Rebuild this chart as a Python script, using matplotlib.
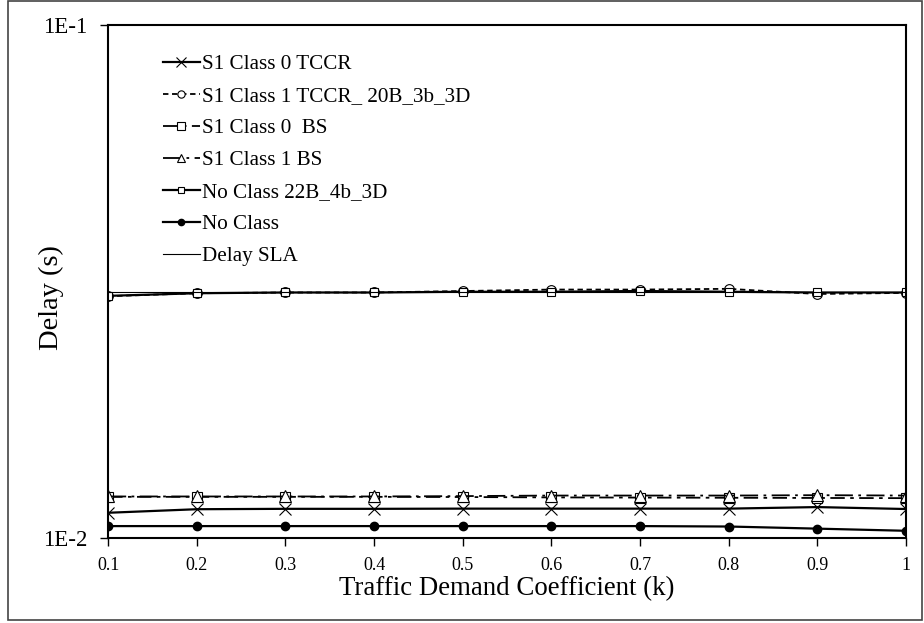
import numpy as np
import matplotlib.pyplot as plt
from matplotlib.patches import Rectangle

plt.rcParams['font.family'] = 'Liberation Serif'

k = [0.1, 0.2, 0.3, 0.4, 0.5, 0.6, 0.7, 0.8, 0.9, 1.0]
tick_labels = ['0.1', '0.2', '0.3', '0.4', '0.5', '0.6', '0.7', '0.8', '0.9', '1']

s1_c0_tccr = [0.01120, 0.01138, 0.01140, 0.01140, 0.01141, 0.01141, 0.01141, 0.01141, 0.01149, 0.01139]
s1_c1_tccr = [0.02960, 0.03000, 0.03010, 0.03010, 0.03030, 0.03050, 0.03050, 0.03060, 0.02990, 0.03005]
s1_c0_bs = [0.01203, 0.01203, 0.01203, 0.01203, 0.01202, 0.01200, 0.01199, 0.01198, 0.01197, 0.01196]
s1_c1_bs = [0.01205, 0.01205, 0.01205, 0.01205, 0.01207, 0.01210, 0.01210, 0.01210, 0.01212, 0.01210]
noclass_22b = [0.02965, 0.03000, 0.03010, 0.03010, 0.03020, 0.03020, 0.03030, 0.03020, 0.03010, 0.03010]
noclass = [0.01055, 0.01055, 0.01055, 0.01055, 0.01055, 0.01055, 0.01055, 0.01053, 0.01043, 0.01033]
delay_sla = [0.0301] * len(k)

fig = plt.figure(figsize=(9.24, 6.23), dpi=100)
ax = fig.add_axes([0.117, 0.1364, 0.8635, 0.8235])

ax.plot(k, s1_c0_tccr, color='black', lw=1.6, marker='x', ms=9, mew=0.8,
        label='S1 Class 0 TCCR')
ax.plot(k, s1_c1_tccr, color='black', lw=1.3, ls=(0, (3, 2)), marker='o', ms=7,
        mfc='white', mew=0.8, label='S1 Class 1 TCCR_ 20B_3b_3D')
ax.plot(k, s1_c0_bs, color='black', lw=1.3, ls=(0, (8, 3, 2, 3)), marker='s', ms=7,
        mfc='white', mew=0.8, label='S1 Class 0  BS')
ax.plot(k, s1_c1_bs, color='black', lw=1.3, ls=(0, (10, 3, 1.5, 3)), marker='^', ms=8,
        mfc='white', mew=0.8, label='S1 Class 1 BS')
ax.plot(k, noclass_22b, color='black', lw=1.6, marker='s', ms=6,
        mfc='white', mew=0.8, label='No Class 22B_4b_3D')
ax.plot(k, noclass, color='black', lw=1.6, marker='o', ms=6,
        label='No Class')
ax.plot(k, delay_sla, color='black', lw=0.8, label='Delay SLA')

ax.set_yscale('log')
ax.set_ylim(0.01, 0.1)
ax.set_xlim(0.1, 1.0)
ax.set_yticks([0.01, 0.1])
ax.set_yticklabels(['1E-2', '1E-1'], fontsize=16.5)
ax.minorticks_off()
ax.set_xticks(k)
ax.set_xticklabels(tick_labels, fontsize=13)
ax.tick_params(axis='both', direction='out', length=6, width=1, color='black')
ax.tick_params(axis='x', pad=8)
ax.tick_params(axis='y', pad=9)
for sp in ax.spines.values():
    sp.set_linewidth(1.5)

ax.set_xlabel('Traffic Demand Coefficient (k)', fontsize=19.4, labelpad=1)
ax.set_ylabel('Delay (s)', fontsize=20.5)
ax.yaxis.set_label_coords(-0.055, 0.468)

ax.legend(loc='upper left', bbox_to_anchor=(0.058, 0.959), frameon=False,
          fontsize=15.2, handlelength=1.75, handletextpad=0.1, labelspacing=0.58,
          markerscale=0.75, borderaxespad=0)

fig.patches.append(Rectangle((0.009, 0.005), 0.989, 0.993, transform=fig.transFigure,
                             fill=False, edgecolor='#444444', lw=1.2))

fig.savefig('out.png', dpi=100)
